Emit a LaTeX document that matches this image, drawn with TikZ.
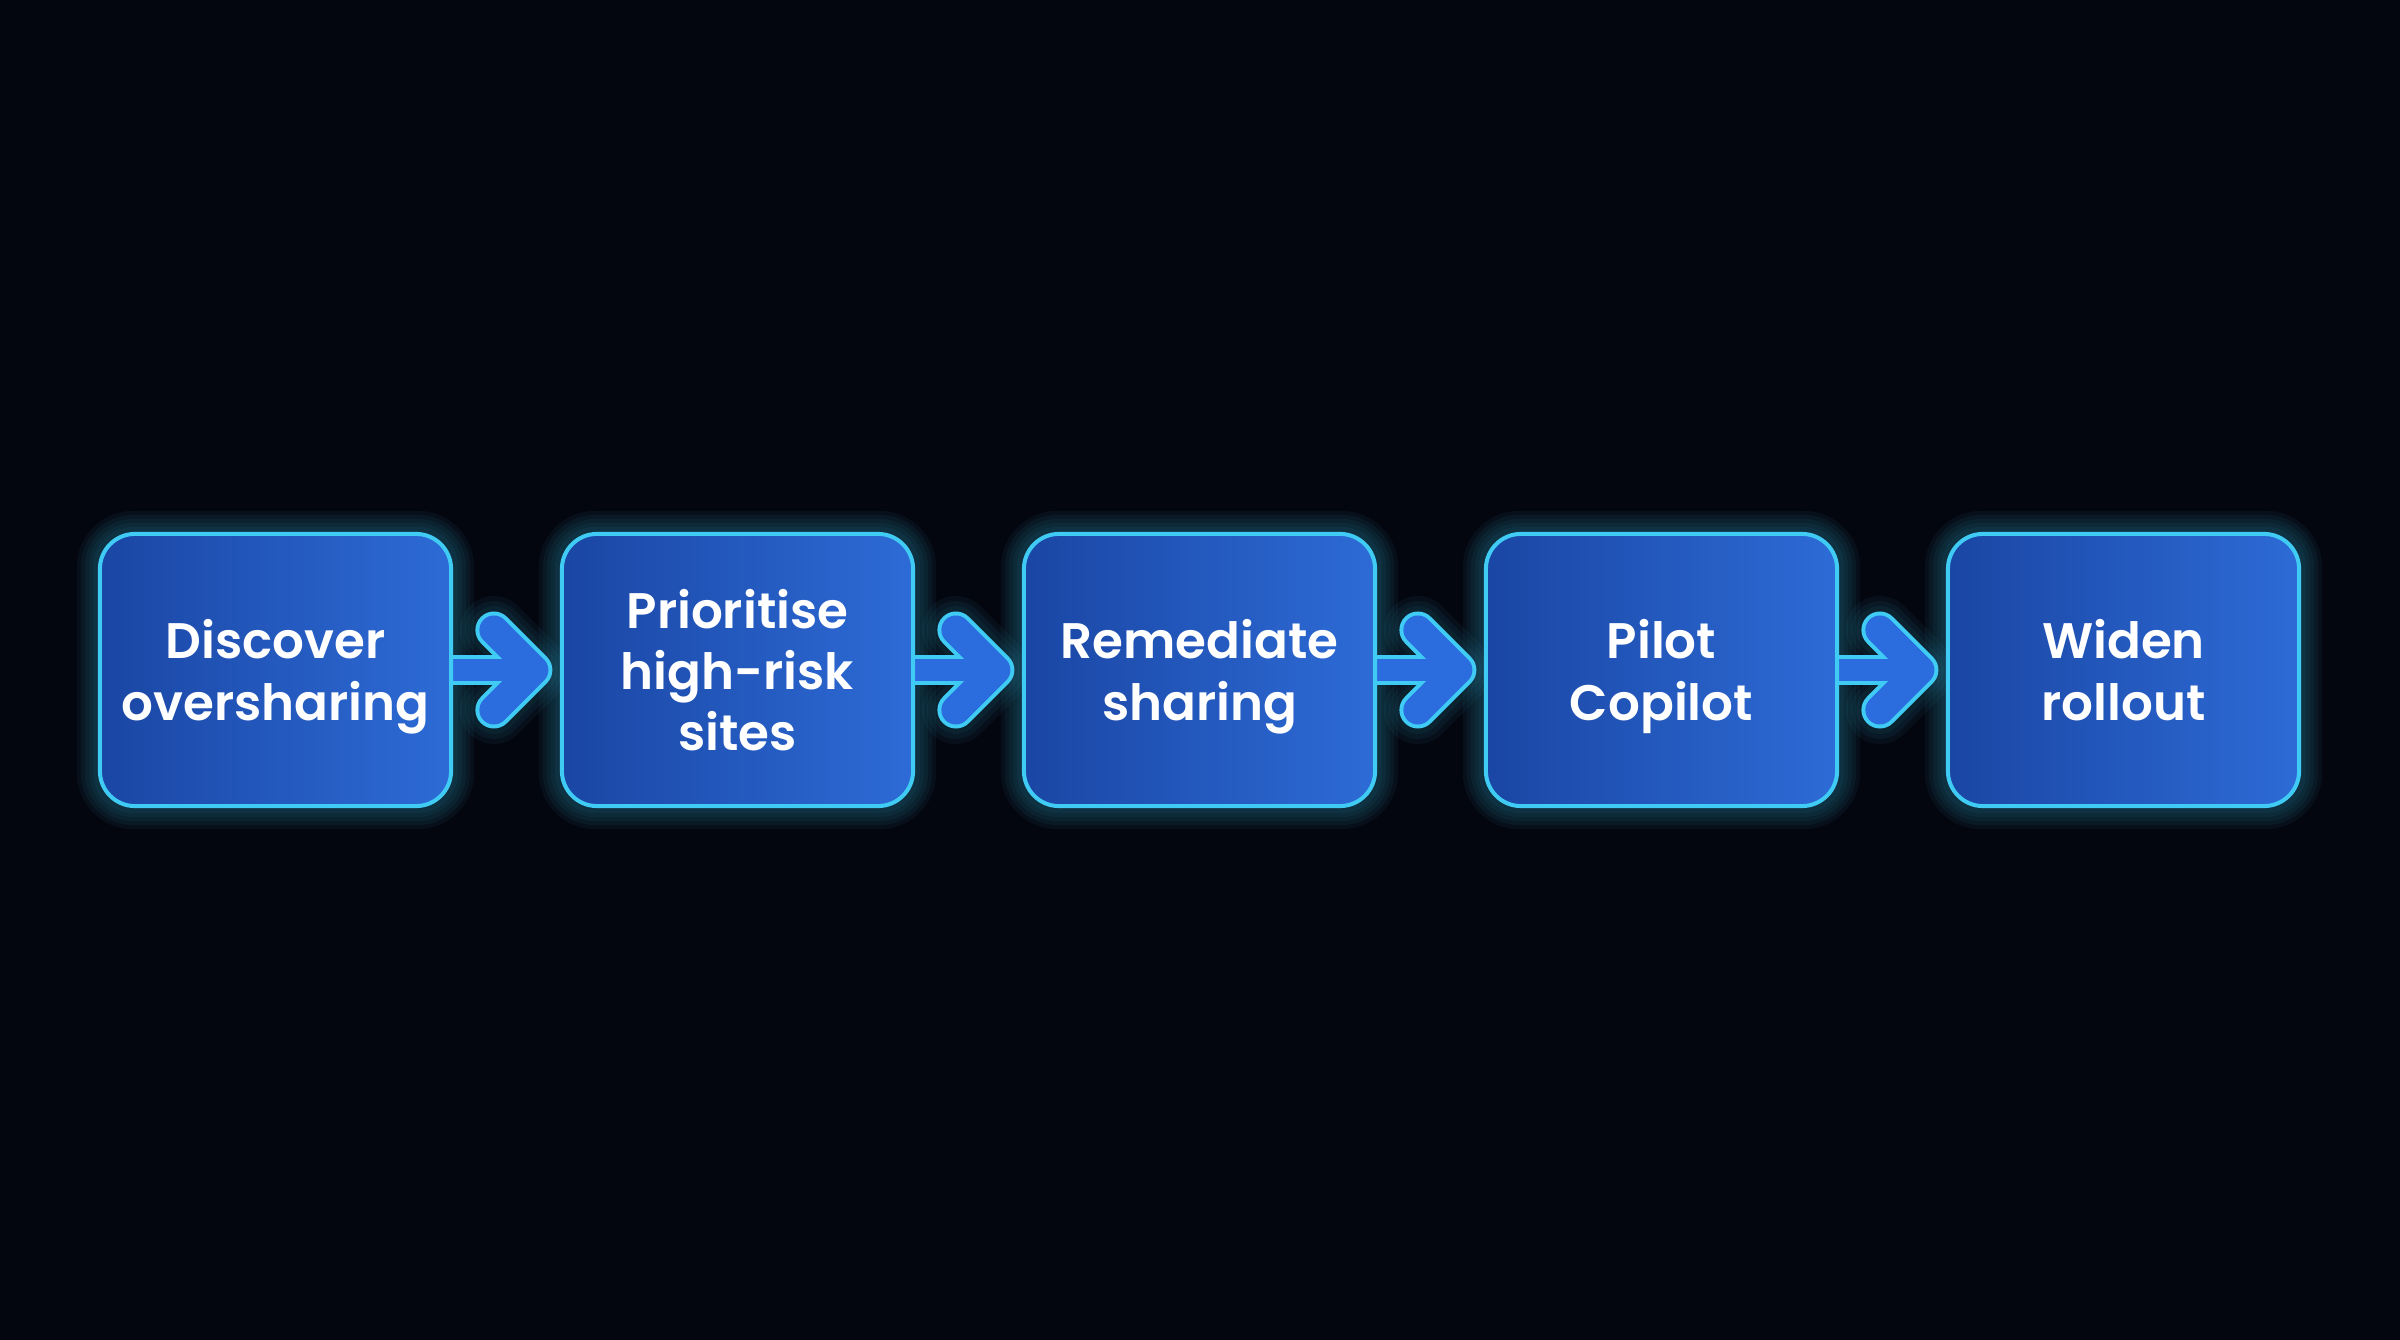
\documentclass[tikz,border=0pt]{standalone}
\usepackage{fontspec}
\setmainfont{Poppins}
\newfontfamily\popsemi{Poppins SemiBold}
\definecolor{bg}{HTML}{04060F}
\definecolor{boxdark}{HTML}{1A46A4}
\definecolor{boxlight}{HTML}{2D6BD6}
\definecolor{edge}{HTML}{3FCBF4}
\definecolor{arrowfill}{HTML}{2B6CDE}
\pgfdeclarelayer{bglayer}
\pgfdeclarelayer{glowlayer}
\pgfdeclarelayer{arrowlayer}
\pgfsetlayers{bglayer,glowlayer,arrowlayer,main}
\tikzset{
  stepbox/.style={draw=edge, line width=0.04cm, rounded corners=0.35cm,
    minimum width=3.51cm, minimum height=2.72cm, inner sep=0pt,
    left color=boxdark, right color=boxlight,
    text=white, align=center, text depth=0pt,
    font=\popsemi\fontsize{14.2pt}{17.4pt}\selectfont},
  shaftout/.style={draw=edge, line width=0.30cm, line cap=butt},
  shaftin/.style={draw=arrowfill, line width=0.22cm, line cap=butt},
  chevout/.style={draw=edge, line width=0.37cm, line cap=round, line join=round},
  chevin/.style={draw=arrowfill, line width=0.29cm, line cap=round, line join=round},
  glowline/.style={draw=edge, opacity=0.05},
}
\begin{document}
\begin{tikzpicture}[x=0.01cm,y=-0.01cm]
\begin{pgfonlayer}{bglayer}
\fill[bg] (0,0) rectangle (2400,1340);
\end{pgfonlayer}
\useasboundingbox (0,0) rectangle (2400,1340);

\node[stepbox] (b1) at (275.5,670) {Discover\\oversharing};
\node[stepbox] (b2) at (737.5,670) {Prioritise\\high-risk\\sites};
\node[stepbox] (b3) at (1199.5,670) {Remediate\\sharing};
\node[stepbox] (b4) at (1661.5,670) {Pilot\\Copilot};
\node[stepbox] (b5) at (2123.5,670) {Widen\\rollout};

\begin{pgfonlayer}{glowlayer}
\foreach \b in {b1,b2,b3,b4,b5}{
  \foreach \w in {0.10,0.18,0.26,0.34,0.42}{
    \draw[glowline, line width=\w cm, rounded corners=0.35cm]
      (\b.south west) rectangle (\b.north east);
  }
}
\end{pgfonlayer}

\begin{pgfonlayer}{arrowlayer}
\foreach \a/\b in {b1/b2,b2/b3,b3/b4,b4/b5}{
  \path ([xshift=-0.26cm]\b.west) coordinate (j);
  \foreach \w in {0.48,0.58,0.68}{
    \draw[glowline, line width=\w cm, line cap=round, line join=round]
      (j) ++(-40,-40) -- (j) -- ++(-40,40);
  }
  \draw[shaftout] ([xshift=-0.05cm]\a.east) -- (j);
  \draw[chevout] (j) ++(-40,-40) -- (j) -- ++(-40,40);
  \draw[shaftin] ([xshift=-0.05cm]\a.east) -- (j);
  \draw[chevin] (j) ++(-40,-40) -- (j) -- ++(-40,40);
}
\end{pgfonlayer}
\end{tikzpicture}
\end{document}
